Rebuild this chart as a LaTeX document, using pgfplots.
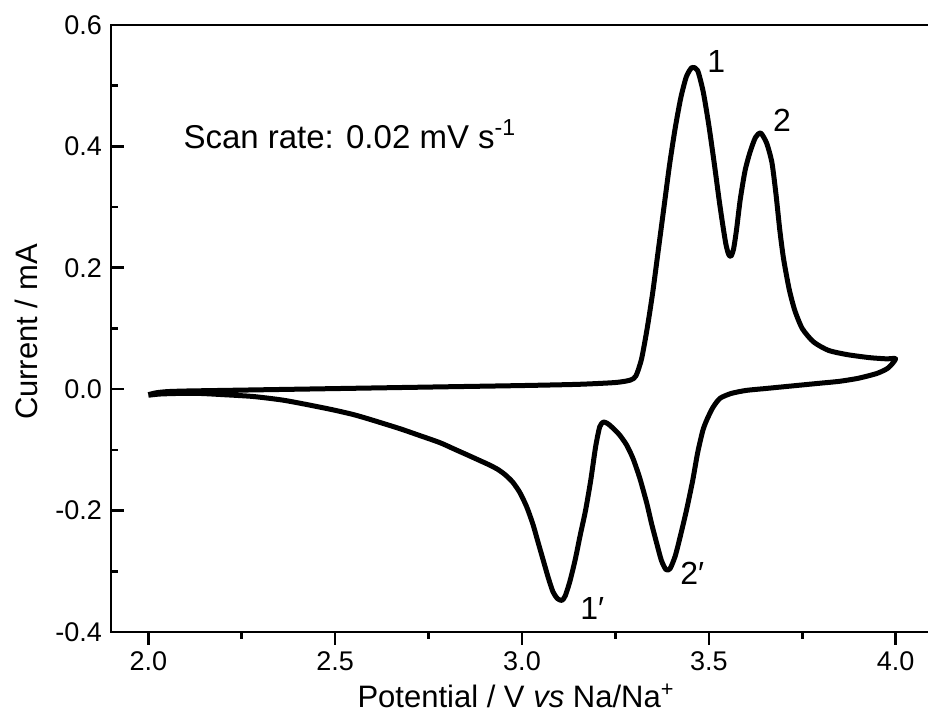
\documentclass[border=0pt]{standalone}
\usepackage{fontspec}
\setmainfont{Liberation Sans}
\usepackage{pgfplots}
\pgfplotsset{compat=1.18}
\newcommand\tickfont{\fontsize{13.5}{16}\selectfont}
\begin{document}
\begin{tikzpicture}
\begin{axis}[
  at={(0,0)}, anchor=south west,
  scale only axis, width=411pt, height=303.5pt,
  xmin=1.9, xmax=4.1, ymin=-0.4, ymax=0.6,
  xtick={2.0,2.5,3.0,3.5,4.0},
  ytick={-0.4,-0.2,0,0.2,0.4,0.6},
  xticklabels={{\tickfont 2.0},{\tickfont 2.5},{\tickfont 3.0},{\tickfont 3.5},{\tickfont 4.0}},
  yticklabels={{\tickfont -0.4},{\tickfont -0.2},{\tickfont 0.0},{\tickfont 0.2},{\tickfont 0.4},{\tickfont 0.6}},
  minor x tick num=1, minor y tick num=1,
  tick pos=left,
  xtick align=outside, ytick align=inside,
  major tick length=6.5pt, minor tick length=3.5pt,
  axis line style={line width=1.3pt},
  every tick/.style={line width=1.3pt, black},
  xticklabel style={yshift=-2pt, inner ysep=1pt},
  yticklabel style={xshift=-1pt},
  xlabel={Potential / V \textit{vs} Na/Na\textsuperscript{+}},
  ylabel={Current / mA},
  label style={font=\fontsize{15.5}{18}\selectfont},
  xlabel style={at={(axis description cs:0.4927,-0.1236)}, anchor=base, inner ysep=1pt},
  ylabel style={at={(axis description cs:-0.09,0.494)}, anchor=base},
  clip=false,
]
\addplot[black, line width=2.5pt, line join=round, smooth, tension=0.4] coordinates {
(2.000,-0.009) (2.02,-0.006) (2.05,-0.004) (2.10,-0.003) (2.20,-0.002)
(2.40,0.000) (2.60,0.002) (2.80,0.004) (3.00,0.006) (3.15,0.008)
(3.25,0.011) (3.29,0.015) (3.305,0.022) (3.32,0.05) (3.335,0.10)
(3.35,0.16) (3.365,0.23) (3.38,0.30) (3.395,0.37) (3.41,0.43)
(3.425,0.48) (3.44,0.515) (3.455,0.53) (3.47,0.525) (3.485,0.49)
(3.50,0.435) (3.515,0.37) (3.528,0.31) (3.538,0.268) (3.546,0.238)
(3.553,0.222) (3.559,0.219) (3.566,0.230) (3.574,0.262) (3.584,0.312) (3.597,0.36)
(3.61,0.39) (3.625,0.415)
(3.639,0.422) (3.655,0.405) (3.669,0.373) (3.68,0.32) (3.69,0.262)
(3.70,0.215) (3.715,0.165) (3.73,0.13) (3.75,0.10) (3.78,0.078)
(3.82,0.064) (3.87,0.057) (3.93,0.052) (3.975,0.050) (4.00,0.050)
(3.98,0.035) (3.95,0.026) (3.90,0.018) (3.85,0.013) (3.80,0.010)
(3.75,0.007) (3.70,0.004) (3.65,0.001) (3.60,-0.002) (3.56,-0.007)
(3.53,-0.015) (3.511,-0.030) (3.495,-0.050) (3.484,-0.068) (3.47,-0.105)
(3.457,-0.150) (3.44,-0.200) (3.423,-0.244) (3.41,-0.275) (3.396,-0.296)
(3.385,-0.297) (3.373,-0.282) (3.361,-0.255) (3.347,-0.222) (3.334,-0.188)
(3.315,-0.146) (3.297,-0.114) (3.28,-0.092) (3.262,-0.076) (3.245,-0.065)
(3.23,-0.057) (3.218,-0.054) (3.208,-0.062) (3.197,-0.095) (3.184,-0.150)
(3.170,-0.200) (3.156,-0.240) (3.142,-0.282) (3.128,-0.317) (3.116,-0.340)
(3.107,-0.348) (3.095,-0.345) (3.083,-0.334) (3.07,-0.31) (3.056,-0.280)
(3.042,-0.250) (3.029,-0.222) (3.012,-0.193) (2.994,-0.170) (2.975,-0.153)
(2.955,-0.141) (2.935,-0.132) (2.91,-0.124) (2.885,-0.117) (2.86,-0.110)
(2.82,-0.099) (2.78,-0.088) (2.72,-0.075) (2.673,-0.065) (2.60,-0.051)
(2.55,-0.042) (2.494,-0.034) (2.43,-0.026) (2.36,-0.018) (2.28,-0.012)
(2.20,-0.009) (2.138,-0.007) (2.08,-0.007) (2.03,-0.008) (2.00,-0.010)
};
\node[anchor=base west, inner sep=0pt, font=\fontsize{16.5}{19}\selectfont] at (axis cs:2.093,0.397) {Scan rate: 0.02 mV s\textsuperscript{-1}};
\node[anchor=base west, inner sep=0pt, font=\fontsize{16}{19}\selectfont] at (axis cs:3.495,0.521) {1};
\node[anchor=base west, inner sep=0pt, font=\fontsize{16}{19}\selectfont] at (axis cs:3.671,0.424) {2};
\node[anchor=base west, inner sep=0pt, font=\fontsize{16}{19}\selectfont] at (axis cs:3.155,-0.380) {1′};
\node[anchor=base west, inner sep=0pt, font=\fontsize{16}{19}\selectfont] at (axis cs:3.423,-0.321) {2′};
\end{axis}
\pgfresetboundingbox
\path[use as bounding box] (-55.5pt,-42.5pt) rectangle (408.5pt,316pt);
\end{tikzpicture}
\end{document}
